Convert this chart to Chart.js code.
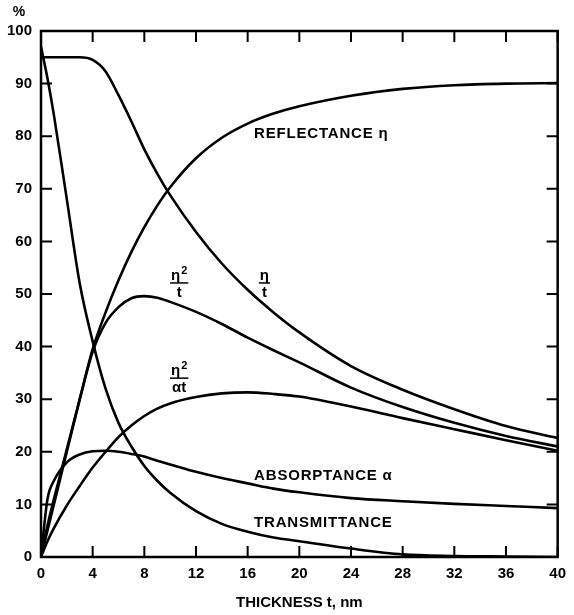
<!DOCTYPE html>
<html>
<head>
<meta charset="utf-8">
<script src="https://cdn.jsdelivr.net/npm/chart.js@4.4.1/dist/chart.umd.min.js"></script>
<style>
  body { margin: 0; background: #fff; }
  #wrap { width: 574px; height: 615px; }
</style>
</head>
<body>
<div id="wrap"><canvas id="thick"></canvas></div>
<script>
// thickness t (nm), shared by every curve
const thickness = [0, 0.5, 1, 2, 3, 4, 5, 6, 7, 8, 9, 10, 12, 14, 16, 18, 20, 24, 28, 32, 36, 40];

// values in %
const reflectance   = [0, 5, 10, 20, 30, 39.5, 46.5, 52.6, 58, 62.7, 66.8, 70.3, 75.8, 79.7, 82.4, 84.3, 85.7, 87.7, 89, 89.7, 90, 90.1];
const etaOverT      = [95, 95, 95, 95, 95, 94.5, 92.3, 87.8, 82.8, 77.5, 72.9, 68.8, 61.8, 55.8, 50.8, 46.5, 42.7, 36.3, 31.8, 28.1, 24.9, 22.6];
const eta2OverT     = [0, 6, 11, 20.5, 30, 39, 44.5, 47.5, 49.2, 49.6, 49.3, 48.5, 46.6, 44.3, 41.7, 39.3, 37, 32.2, 28.5, 25.5, 23, 21];
const eta2OverAT    = [0, 3, 5.5, 9.8, 13.5, 17, 20, 22.8, 25, 26.8, 28.2, 29.2, 30.4, 31.1, 31.3, 31, 30.5, 28.6, 26.4, 24.3, 22.2, 20.2];
const absorptance   = [0, 11, 14.5, 18, 19.5, 20.1, 20.2, 20, 19.6, 19.1, 18.3, 17.6, 16.2, 15, 14, 13, 12.3, 11.2, 10.6, 10.1, 9.7, 9.3];
const transmittance = [97, 91, 84, 68, 52, 41, 32, 25.5, 21, 17.3, 14.5, 12.2, 8.7, 6.3, 4.8, 3.7, 3, 1.6, 0.5, 0.2, 0.1, 0];

const xTicks = [0, 4, 8, 12, 16, 20, 24, 28, 32, 36, 40];
const yTicks = [0, 10, 20, 30, 40, 50, 60, 70, 80, 90, 100];

const FONT = "'Liberation Sans', Arial, sans-serif";

function series(vals) {
  return {
    data: thickness.map((t, i) => ({x: t, y: vals[i]})),
    borderColor: '#000',
    borderWidth: 2.6,
    pointRadius: 0,
    fill: false,
    cubicInterpolationMode: 'monotone',
    borderJoinStyle: 'round',
    borderCapStyle: 'round'
  };
}

// curve labels, placed in data coordinates
const plainLabels = [
  {text: 'REFLECTANCE η', x: 16.5, y: 80.4},
  {text: 'ABSORPTANCE α', x: 16.5, y: 15.4},
  {text: 'TRANSMITTANCE', x: 16.5, y: 6.4}
];
const fracLabels = [
  {num: 'η', sup: '', den: 't', x: 17.3, y: 52.1},
  {num: 'η', sup: '2', den: 't', x: 10.7, y: 52.1},
  {num: 'η', sup: '2', den: 'αt', x: 10.7, y: 34.0}
];

const frame = {
  id: 'frame',
  afterDraw(chart) {
    const {ctx, chartArea: a, scales: {x, y}} = chart;
    ctx.save();
    ctx.strokeStyle = '#000';
    ctx.lineWidth = 2.5;
    ctx.strokeRect(a.left, a.top, a.right - a.left, a.bottom - a.top);
    ctx.lineWidth = 2;
    const len = 11;
    xTicks.forEach(v => {
      const px = x.getPixelForValue(v);
      ctx.beginPath();
      ctx.moveTo(px, a.bottom); ctx.lineTo(px, a.bottom - len);
      ctx.moveTo(px, a.top); ctx.lineTo(px, a.top + len);
      ctx.stroke();
    });
    yTicks.forEach(v => {
      const py = y.getPixelForValue(v);
      ctx.beginPath();
      ctx.moveTo(a.left, py); ctx.lineTo(a.left + len, py);
      ctx.moveTo(a.right, py); ctx.lineTo(a.right - len, py);
      ctx.stroke();
    });

    ctx.fillStyle = '#000';
    ctx.font = 'bold 14px ' + FONT;
    ctx.textAlign = 'center';
    ctx.textBaseline = 'middle';
    ctx.fillText('%', 19, 12);

    ctx.font = 'bold 15px ' + FONT;
    ctx.textAlign = 'left';
    ctx.letterSpacing = '0.8px';
    plainLabels.forEach(l => {
      ctx.fillText(l.text, x.getPixelForValue(l.x), y.getPixelForValue(l.y));
    });
    ctx.letterSpacing = '0px';

    fracLabels.forEach(l => {
      const cx = x.getPixelForValue(l.x);
      const cy = y.getPixelForValue(l.y);
      ctx.font = 'bold 15px ' + FONT;
      const nw = ctx.measureText(l.num).width;
      ctx.font = 'bold 11px ' + FONT;
      const sw = l.sup ? ctx.measureText(l.sup).width + 1 : 0;
      const w = nw + sw;
      ctx.textAlign = 'left';
      ctx.textBaseline = 'alphabetic';
      ctx.font = 'bold 15px ' + FONT;
      ctx.fillText(l.num, cx - w / 2, cy - 3);
      if (l.sup) {
        ctx.font = 'bold 11px ' + FONT;
        ctx.fillText(l.sup, cx - w / 2 + nw + 1, cy - 9);
      }
      ctx.font = 'bold 15px ' + FONT;
      const dw = ctx.measureText(l.den).width;
      const lw = Math.max(w, dw) + 2;
      ctx.lineWidth = 1.5;
      ctx.beginPath();
      ctx.moveTo(cx - lw / 2, cy); ctx.lineTo(cx + lw / 2, cy);
      ctx.stroke();
      ctx.textAlign = 'center';
      ctx.textBaseline = 'top';
      ctx.fillText(l.den, cx, cy + 2);
    });
    ctx.restore();
  }
};

const config = {
  type: 'line',
  data: {
    datasets: [
      series(reflectance),
      series(etaOverT),
      series(eta2OverT),
      series(eta2OverAT),
      series(absorptance),
      series(transmittance)
    ]
  },
  options: {
    responsive: true,
    maintainAspectRatio: false,
    animation: false,
    layout: { padding: {left: 0, right: 7, top: 31, bottom: 0} },
    plugins: {
      legend: { display: false },
      tooltip: { enabled: false }
    },
    scales: {
      x: {
        type: 'linear',
        min: 0, max: 40,
        grid: { display: false, drawTicks: false },
        border: { display: false },
        afterBuildTicks: s => { s.ticks = xTicks.map(v => ({value: v})); },
        afterFit: s => { s.height = 58; },
        ticks: {
          color: '#000', padding: 8,
          font: { family: FONT, size: 15, weight: 'bold' }
        },
        title: {
          display: true,
          text: 'THICKNESS t, nm',
          color: '#000',
          padding: {top: 8, bottom: 3},
          font: { family: FONT, size: 15, weight: 'bold' }
        }
      },
      y: {
        min: 0, max: 100,
        grid: { display: false, drawTicks: false },
        border: { display: false },
        afterBuildTicks: s => { s.ticks = yTicks.map(v => ({value: v})); },
        afterFit: s => { s.width = 41; },
        ticks: {
          color: '#000', padding: 9,
          font: { family: FONT, size: 15, weight: 'bold' }
        }
      }
    }
  },
  plugins: [frame]
};

new Chart(document.getElementById('thick'), config);
</script>
</body>
</html>
